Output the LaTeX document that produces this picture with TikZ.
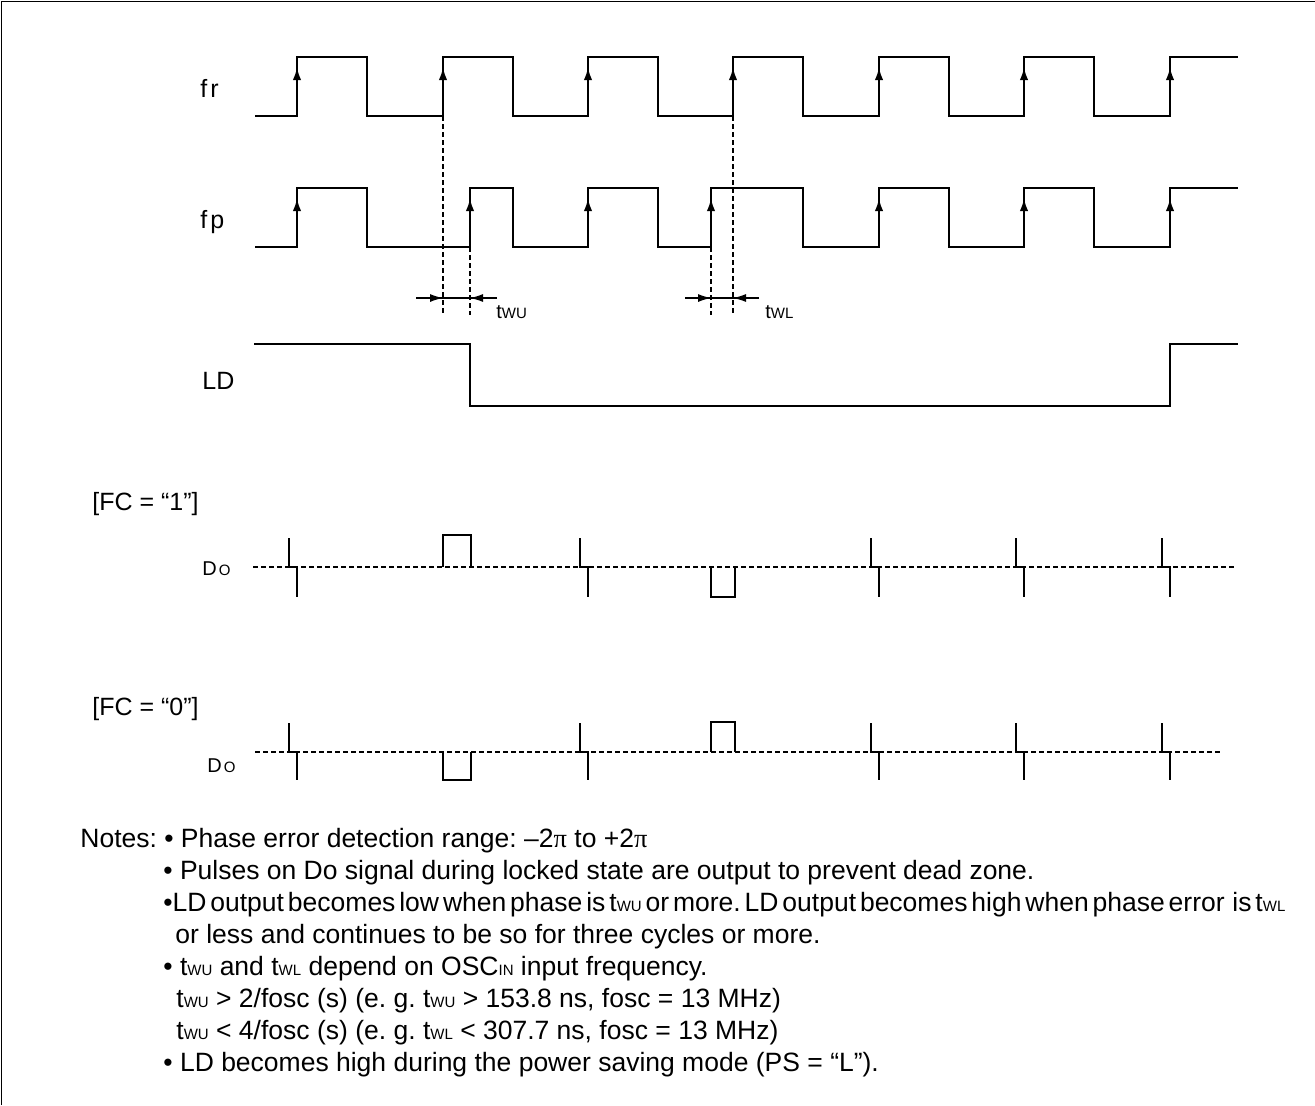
\documentclass[tikz,border=0pt]{standalone}
\usepackage{fontspec}
\setmainfont{Liberation Sans}
\newfontfamily\pifont{Liberation Serif}
\usetikzlibrary{arrows.meta}
\tikzset{%
	wave/.style = {line width=1.2pt,line join=miter},
	guide/.style = {line width=0.6pt,dash pattern=on 2.5pt off 1.5pt},
	lbl/.style = {anchor=base west,inner sep=0,font=\fontsize{12.5}{15}\selectfont},
	sublbl/.style = {anchor=base west,inner sep=0,font=\fontsize{10}{12}\selectfont},
	note/.style = {anchor=base west,inner sep=0,font=\fontsize{13.25}{16}\selectfont},
	edgetip/.style = {-{Latex[length=6.5pt,width=4.2pt]},line width=1.2pt},
	dimtip/.style = {-{Latex[length=6.5pt,width=4pt]},line width=0.6pt}%
}
\newcommand{\lowcap}[1]{{\fontsize{7.5}{9}\selectfont #1}}
\newcommand{\tsub}[1]{t\lowcap{#1}}
\frenchspacing

\begin{document}
\begin{tikzpicture}[x=0.5pt,y=-0.5pt]
		\useasboundingbox (0,0) rectangle (1315,1105);
		\draw[line width=0.5pt] (1,1105) -- (1,1) -- (1315,1);
		
		% signal names
		\node(fr)[lbl] at (200,97) {f\kern1.5pt r};
		\node(fp)[lbl] at (200,228) {f\kern1.5pt p};
		\node(ld)[lbl] at (202,389) {LD};
		\node(fc1)[lbl] at (92,510) {[FC = “1”]};
		\node(do1)[sublbl] at (202,575) {D\kern1pt\lowcap{O}};
		\node(fc0)[lbl] at (92,715) {[FC = “0”]};
		\node(do0)[sublbl] at (207,772) {D\kern1pt\lowcap{O}};
		
		% fr and fp
		\draw[wave] (255,116) \foreach \r/\f in {297/367,443/513,588/658,733/803,879/949,1024/1094}{ -- (\r,116) -- (\r,57) -- (\f,57) -- (\f,116)} -- (1170,116) -- (1170,57) -- (1238,57);
		\draw[wave] (255,247) \foreach \r/\f in {297/367,470/513,588/658,711/803,879/949,1024/1094}{ -- (\r,247) -- (\r,188) -- (\f,188) -- (\f,247)} -- (1170,247) -- (1170,188) -- (1238,188);
		\foreach \r in {297,443,588,733,879,1024,1170} \draw[edgetip] (\r,116) -- (\r,67);
		\foreach \r in {297,470,588,711,879,1024,1170} \draw[edgetip] (\r,247) -- (\r,198);
		
		% phase windows
		\coordinate(ua) at (443,116);
		\coordinate(ub) at (470,247);
		\coordinate(la) at (711,247);
		\coordinate(lb) at (733,116);
		\draw[guide] (ua) -- (443,315);
		\draw[guide] (ub) -- (470,315);
		\draw[guide] (la) -- (711,315);
		\draw[guide] (lb) -- (733,315);
		\draw[line width=0.6pt] (416,298) -- (497,298);
		\draw[dimtip] (416,298) -- (443,298);
		\draw[dimtip] (497,298) -- (470,298);
		\draw[line width=0.6pt] (685,298) -- (759,298);
		\draw[dimtip] (685,298) -- (711,298);
		\draw[dimtip] (759,298) -- (733,298);
		\node(twu)[sublbl] at (496,318) {\tsub{WU}};
		\node(twl)[sublbl] at (765,318) {\tsub{WL}};
		
		% LD
		\draw[wave] (254,344) -- (470,344) -- (470,406) -- (1170,406) -- (1170,344) -- (1238,344);
		
		% Do, FC = 1
		\draw[guide] (253,567) -- (1235,567);
		\foreach \r in {297,588,879,1024,1170} \draw[wave] (\r-8,538) -- (\r-8,567) -- (\r,567) -- (\r,597);
		\draw[wave] (443,567) -- (443,535) -- (471,535) -- (471,567);
		\draw[wave] (711,567) -- (711,597) -- (735,597) -- (735,567);
		
		% Do, FC = 0
		\draw[guide] (255,752) -- (1220,752);
		\foreach \r in {297,588,879,1024,1170} \draw[wave] (\r-8,723) -- (\r-8,752) -- (\r,752) -- (\r,780);
		\draw[wave] (443,752) -- (443,780) -- (471,780) -- (471,752);
		\draw[wave] (711,752) -- (711,722) -- (735,722) -- (735,752);
		
		% notes
		\node(n1)[note] at (80,847) {Notes: • Phase error detection range: –2{\pifont π} to +2{\pifont π}};
		\node(n2)[note] at (163,879) {• Pulses on Do signal during locked state are output to prevent dead zone.};
		\node(n3)[note] at (163,911) {\makebox[561pt][s]{\spaceskip=0.05em plus 2em\relax •LD output becomes low when phase is \tsub{WU} or more. LD output becomes high when phase error\ \ is \tsub{WL}}};
		\node(n4)[note] at (175,943) {or less and continues to be so for three cycles or more.};
		\node(n5)[note] at (163,975) {• \tsub{WU} and \tsub{WL} depend on OSC\lowcap{IN} input frequency.};
		\node(n6)[note] at (176,1007) {\tsub{WU} > 2/fosc (s) (e. g. \tsub{WU} > 153.8 ns, fosc = 13 MHz)};
		\node(n7)[note] at (176,1039) {\tsub{WU} < 4/fosc (s) (e. g. \tsub{WL} < 307.7 ns, fosc = 13 MHz)};
		\node(n8)[note] at (163,1071) {• LD becomes high during the power saving mode (PS = “L”).};
\end{tikzpicture}
\end{document}
